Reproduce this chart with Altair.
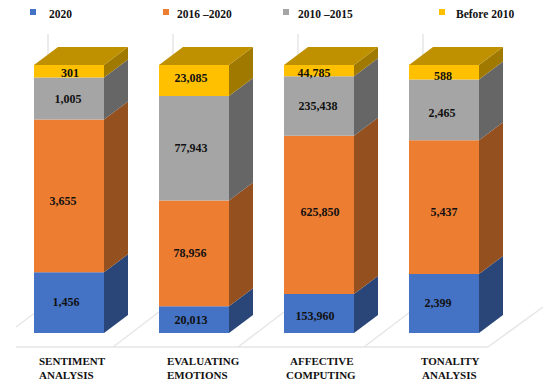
import altair as alt
import pandas as pd

# ---------- chart values ----------
categories = ["SENTIMENT ANALYSIS", "EVALUATING EMOTIONS", "AFFECTIVE COMPUTING", "TONALITY ANALYSIS"]
series = ["2020", "2016 –2020", "2010 –2015", "Before 2010"]
v_2020 = [1456, 20013, 153960, 2399]
v_2016_2020 = [3655, 78956, 625850, 5437]
v_2010_2015 = [1005, 77943, 235438, 2465]
v_before_2010 = [301, 23085, 44785, 588]
columns = [v_2020, v_2016_2020, v_2010_2015, v_before_2010]

# ---------- styles ----------
front = ["#4472C4", "#ED7D31", "#A5A5A5", "#FFC000"]
side = ["#2A4679", "#94501E", "#666666", "#A07A00"]
top_color = "#BF9000"
grid = "#E6E6E6"
FONT = "Liberation Serif"

# ---------- layout (image pixels -> scale units) ----------
W, H = 537, 371
STEP = 125.0      # px per category
PX_Y = 268.0      # px for a 100 % bar
X0_IMG, Y0_IMG = 69.0, 333.0  # first bar centre, bar baseline
def ux(px): return (px - X0_IMG) / STEP
def uy(py): return (Y0_IMG - py) / PX_Y
HALF = 35 / STEP
DX, DY = 24 / STEP, 18 / PX_Y
x_scale = alt.Scale(domain=[ux(8), ux(8 + W)], nice=False, zero=False)
y_scale = alt.Scale(domain=[uy(8 + H), uy(8)], nice=False, zero=False)
X = alt.X("x:Q", scale=x_scale, axis=None)
Y = alt.Y("y:Q", scale=y_scale, axis=None)

# ---------- derive faces from the values ----------
front_rows, side_rows, top_rows, label_rows = [], [], [], []
# label offsets from the segment centre, per category, in px
nudges = [[(-3, -1), (-6, 5), (-1, 0), (1, 2)],
          [(-3, 0), (-4, 0), (-3, 0), (-3, -2)],
          [(-4, 2), (1, -3), (-1, 0), (-5, 2)],
          [(-6, 0), (0, 5), (-2, 3), (-1, 4)]]
for c in range(4):
    total = sum(col[c] for col in columns)
    low = 0.0
    for s in range(4):
        val = columns[s][c]
        high = low + val / total
        front_rows.append(dict(x=c - HALF, x2=c + HALF, y=low, y2=high, color=front[s]))
        for t in (0, 1):
            side_rows.append(dict(x=c + HALF + t * DX, y=low + t * DY, y2=high + t * DY,
                                  color=side[s], key=f"{c}-{s}"))
        (nx, ny) = nudges[c][s]
        label_rows.append(dict(x=c + nx / STEP, y=(low + high) / 2 - ny / PX_Y, text=f"{val:,}"))
        low = high
    for t in (0, 1):
        top_rows.append(dict(x=c - HALF + t * DX, x2=c + HALF + t * DX, y=1 + t * DY, key=str(c)))

# background lines
grid_rows = [dict(x=ux(16), x2=ux(488), y=uy(347), y2=uy(347))]
grid_rows.append(dict(x=ux(16), x2=ux(36), y=uy(327), y2=uy(312)))
for base in (113, 238, 364):
    grid_rows.append(dict(x=ux(base), x2=ux(base + 46), y=uy(347), y2=uy(347 - 35)))
grid_rows.append(dict(x=ux(488), x2=ux(543), y=uy(347), y2=uy(307)))
for c in range(4):
    grid_rows.append(dict(x=c + ux(48) - ux(69), x2=c + ux(48) - ux(69), y=uy(65), y2=uy(34)))

# category labels, one row per line, left anchored
cat_anchor = [(39, 39), (167, 167), (290, 286), (421, 422)]
cat_rows = []
for c, name in enumerate(categories):
    for i, line in enumerate(name.split(" ")):
        cat_rows.append(dict(x=ux(cat_anchor[c][i]), y=uy(362 + 13.5 * i), text=line))

# legend, drawn by hand because its entries are irregularly spaced
leg_sq = [33, 166, 286, 442]
leg_tx = [49, 177, 298, 456]
leg_rows = [dict(x=ux(a), y=uy(12), color=front[i]) for i, a in enumerate(leg_sq)]
leg_text = [dict(x=ux(a), y=uy(18), text=series[i]) for i, a in enumerate(leg_tx)]

C = alt.Color("color:N", scale=None, legend=None)
grid_layer = alt.Chart(pd.DataFrame(grid_rows)).mark_rule(color=grid, strokeWidth=1.5).encode(
    x=X, y=Y, x2="x2:Q", y2="y2:Q")
side_layer = alt.Chart(pd.DataFrame(side_rows)).mark_area(orient="vertical", interpolate="linear").encode(
    x=X, y=Y, y2="y2:Q", color=C, detail="key:N")
top_layer = alt.Chart(pd.DataFrame(top_rows)).mark_area(
    orient="horizontal", interpolate="linear", color=top_color).encode(
    y=Y, x=X, x2="x2:Q", detail="key:N")
front_layer = alt.Chart(pd.DataFrame(front_rows)).mark_rect().encode(
    x=X, x2="x2:Q", y=Y, y2="y2:Q", color=C)
label_layer = alt.Chart(pd.DataFrame(label_rows)).mark_text(
    font=FONT, fontWeight="bold", fontSize=12, color="#111111").encode(x=X, y=Y, text="text:N")
cat_layer = alt.Chart(pd.DataFrame(cat_rows)).mark_text(
    font=FONT, fontWeight="bold", fontSize=11, align="left", color="#111111").encode(x=X, y=Y, text="text:N")
leg_sq_layer = alt.Chart(pd.DataFrame(leg_rows)).mark_square(size=36, opacity=1).encode(x=X, y=Y, color=C)
leg_tx_layer = alt.Chart(pd.DataFrame(leg_text)).mark_text(
    font=FONT, fontWeight="bold", fontSize=11.5, align="left", baseline="alphabetic", color="#111111").encode(
    x=X, y=Y, text="text:N")

chart = alt.layer(grid_layer, side_layer, top_layer, front_layer, label_layer, cat_layer,
                  leg_sq_layer, leg_tx_layer).properties(
    width=W, height=H, padding=0, autosize="none", background="white"
).configure_view(stroke=None)
chart.save("out.html", embed_options={"renderer": "svg", "actions": False})
